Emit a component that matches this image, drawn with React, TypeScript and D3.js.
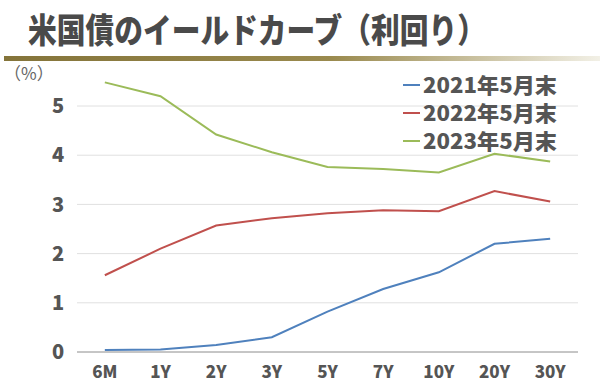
import React from "react";
import * as d3 from "d3";

const categories = ["6M", "1Y", "2Y", "3Y", "5Y", "7Y", "10Y", "20Y", "30Y"];
const seriesNames = ["2021年5月末", "2022年5月末", "2023年5月末"];
const seriesColors = ["#4f81bd", "#c0504d", "#9bbb59"];
const y2021 = [0.04, 0.05, 0.14, 0.3, 0.82, 1.28, 1.62, 2.2, 2.3];
const y2022 = [1.56, 2.1, 2.57, 2.72, 2.82, 2.88, 2.86, 3.27, 3.06];
const y2023 = [5.48, 5.2, 4.42, 4.06, 3.76, 3.72, 3.65, 4.03, 3.87];
const yTicks = [0, 1, 2, 3, 4, 5];

const W = 600;
const H = 388;
const font = "'Noto Sans CJK JP', 'Noto Sans', sans-serif";

const App = () => {
  const series = [y2021, y2022, y2023];
  const x = d3.scalePoint<string>().domain(categories).range([77, 578]).padding(0.5);
  const y = d3.scaleLinear().domain([0, 5]).range([352, 106]);
  const line = d3
    .line<number>()
    .x((_, i) => x(categories[i]) as number)
    .y((d) => y(d));

  return (
    <svg
      width={W}
      height={H}
      style={{ position: "absolute", left: 0, top: 0, background: "#fff" }}
    >
      <defs>
        <linearGradient id="bar" x1="0" x2="1" y1="0" y2="0">
          <stop offset="0" stopColor="#84743a" />
          <stop offset="0.55" stopColor="#9a8a4e" />
          <stop offset="1" stopColor="#f2f0e6" />
        </linearGradient>
      </defs>
      <text
        x={28}
        y={43}
        fontFamily={font}
        fontWeight={900}
        fontSize={34}
        fill="#4a4a4a"
        textLength={458}
        lengthAdjust="spacingAndGlyphs"
      >
        米国債のイールドカーブ（利回り）
      </text>
      <rect x={4} y={56} width={596} height={5} fill="url(#bar)" />
      <text x={4} y={80} fontFamily={font} fontSize={17} fill="#666">
        （%）
      </text>

      {yTicks.map((t) => (
        <g key={t}>
          <line
            x1={77}
            x2={578}
            y1={y(t)}
            y2={y(t)}
            stroke={t === 0 ? "#8c8c8c" : "#e0e0e0"}
            strokeWidth={1}
          />
          <text
            x={58}
            y={y(t)}
            dy="0.36em"
            textAnchor="middle"
            fontFamily={font}
            fontWeight={900}
            fontSize={20}
            fill="#555"
          >
            {t}
          </text>
        </g>
      ))}

      {categories.map((c) => (
        <text
          key={c}
          x={x(c)}
          y={372}
          dy="0.36em"
          textAnchor="middle"
          fontFamily={font}
          fontWeight={900}
          fontSize={17}
          fill="#555"
        >
          {c}
        </text>
      ))}

      {series.map((s, i) => (
        <path
          key={i}
          d={line(s) || ""}
          fill="none"
          stroke={seriesColors[i]}
          strokeWidth={2}
        />
      ))}

      {seriesNames.map((n, i) => (
        <g key={n} transform={`translate(403, ${85 + i * 28})`}>
          <line x1={0} x2={17} y1={0} y2={0} stroke={seriesColors[i]} strokeWidth={2} />
          <text
            x={20}
            y={0}
            dy="0.36em"
            fontFamily={font}
            fontWeight={900}
            fontSize={21}
            fill="#555"
            textLength={134}
            lengthAdjust="spacingAndGlyphs"
          >
            {n}
          </text>
        </g>
      ))}
    </svg>
  );
};

export default App;
